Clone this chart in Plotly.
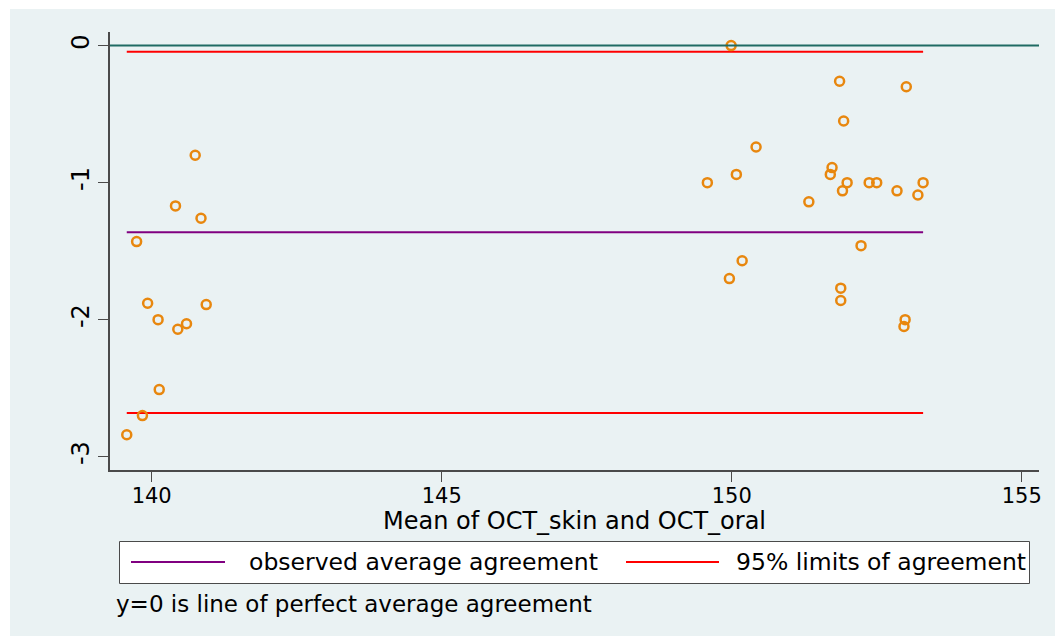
import plotly.graph_objects as go

# Bland-Altman data: mean of the two measurements vs. their difference
mean_oct = [
    139.57, 139.84, 139.74, 139.93, 140.11, 140.13, 140.41, 140.45, 140.60,
    140.75, 140.85, 140.94,
    149.99, 151.86, 153.01, 151.93, 150.42, 151.73, 151.70, 150.08, 149.58,
    151.99, 152.37, 152.50, 153.30, 151.91, 152.85, 153.21, 151.33, 152.23,
    150.18, 149.96, 151.88, 151.88, 152.99, 152.97,
]
diff_oct = [
    -2.84, -2.70, -1.43, -1.88, -2.00, -2.51, -1.17, -2.07, -2.03,
    -0.80, -1.26, -1.89,
    0.00, -0.26, -0.30, -0.55, -0.74, -0.89, -0.94, -0.94, -1.00,
    -1.00, -1.00, -1.00, -1.00, -1.06, -1.06, -1.09, -1.14, -1.46,
    -1.57, -1.70, -1.77, -1.86, -2.00, -2.05,
]

mean_difference = -1.362
limits_of_agreement = [-0.044, -2.681]

x_ticks = [140, 145, 150, 155]
y_ticks = [0, -1, -2, -3]

x_title = "Mean of OCT_skin and OCT_oral"
legend_labels = ["observed average agreement", "95% limits of agreement"]
note_text = "y=0 is line of perfect average agreement"

# Colours (Stata s2color style)
BG = "#eaf2f3"
ORANGE = "#e8870e"
PURPLE = "#800080"
RED = "#ff0000"
TEAL = "#1f6b63"
AXIS = "#4a4a4a"
FONT = "DejaVu Sans"

W, H = 1055, 636
ML, MR, MT, MB = 110, 16, 32, 166
PW, PH = W - ML - MR, H - MT - MB


def px_x(px):
    return (px - ML) / PW


def px_y(py):
    return (H - MB - py) / PH


x_lo, x_hi = min(mean_oct), max(mean_oct)

fig = go.Figure()

# mean difference line
fig.add_trace(go.Scatter(
    x=[x_lo, x_hi], y=[mean_difference, mean_difference], mode="lines",
    line=dict(color=PURPLE, width=2), name=legend_labels[0], showlegend=False,
))
# limits of agreement
for lim in limits_of_agreement:
    fig.add_trace(go.Scatter(
        x=[x_lo, x_hi], y=[lim, lim], mode="lines",
        line=dict(color=RED, width=2), name=legend_labels[1], showlegend=False,
    ))
# observations
fig.add_trace(go.Scatter(
    x=mean_oct, y=diff_oct, mode="markers",
    marker=dict(symbol="circle-open", size=9, color=ORANGE,
                line=dict(color=ORANGE, width=2.5)),
    showlegend=False,
))

shapes = [
    # graph region background
    dict(type="rect", xref="paper", yref="paper",
         x0=px_x(10), x1=px_x(W), y0=px_y(H), y1=px_y(9),
         fillcolor=BG, line=dict(width=0), layer="below"),
    # line of perfect agreement
    dict(type="line", xref="paper", yref="y", x0=0, x1=1, y0=0, y1=0,
         line=dict(color=TEAL, width=2), layer="above"),
    # legend box
    dict(type="rect", xref="paper", yref="paper",
         x0=px_x(119.5), x1=px_x(1029.5), y0=px_y(583.5), y1=px_y(541.5),
         fillcolor="white", line=dict(color=AXIS, width=1)),
    # legend keys
    dict(type="line", xref="paper", yref="paper",
         x0=px_x(131), x1=px_x(225), y0=px_y(562), y1=px_y(562),
         line=dict(color=PURPLE, width=2)),
    dict(type="line", xref="paper", yref="paper",
         x0=px_x(626), x1=px_x(719), y0=px_y(562), y1=px_y(562),
         line=dict(color=RED, width=2)),
]

annotations = [
    dict(text=x_title, xref="paper", yref="paper",
         x=px_x(574), y=px_y(521), xanchor="center", yanchor="middle",
         showarrow=False, font=dict(family=FONT, size=24, color="black")),
    dict(text=legend_labels[0], xref="paper", yref="paper",
         x=px_x(247), y=px_y(562), xanchor="left", yanchor="middle",
         showarrow=False, font=dict(family=FONT, size=23.5, color="black")),
    dict(text=legend_labels[1], xref="paper", yref="paper",
         x=px_x(734), y=px_y(562), xanchor="left", yanchor="middle",
         showarrow=False, font=dict(family=FONT, size=23.5, color="black")),
    dict(text=note_text, xref="paper", yref="paper",
         x=px_x(114), y=px_y(604), xanchor="left", yanchor="middle",
         showarrow=False, font=dict(family=FONT, size=23, color="black")),
]

fig.update_layout(
    width=W, height=H,
    margin=dict(l=ML, r=MR, t=MT, b=MB, pad=0),
    paper_bgcolor="white", plot_bgcolor="white",
    shapes=shapes, annotations=annotations,
    showlegend=False,
    font=dict(family=FONT, color="black"),
)

fig.update_xaxes(
    range=[139.281, 155.298], tickvals=x_ticks, ticktext=[str(v) for v in x_ticks],
    showgrid=False, zeroline=False,
    showline=True, linecolor=AXIS, linewidth=1.5,
    ticks="outside", ticklen=10, tickwidth=1.2, tickcolor=AXIS,
    ticklabelstandoff=-4,
    tickfont=dict(family=FONT, size=21, color="black"),
)
fig.update_yaxes(
    range=[-3.097, 0.0993], tickvals=y_ticks, ticktext=[str(v) for v in y_ticks],
    showgrid=True, gridcolor=BG, gridwidth=2, zeroline=False,
    showline=True, linecolor=AXIS, linewidth=1.5,
    ticks="outside", ticklen=10, tickwidth=1.2, tickcolor=AXIS, tickangle=-90,
    tickfont=dict(family=FONT, size=24, color="black"),
)

fig.write_html("out.html")
